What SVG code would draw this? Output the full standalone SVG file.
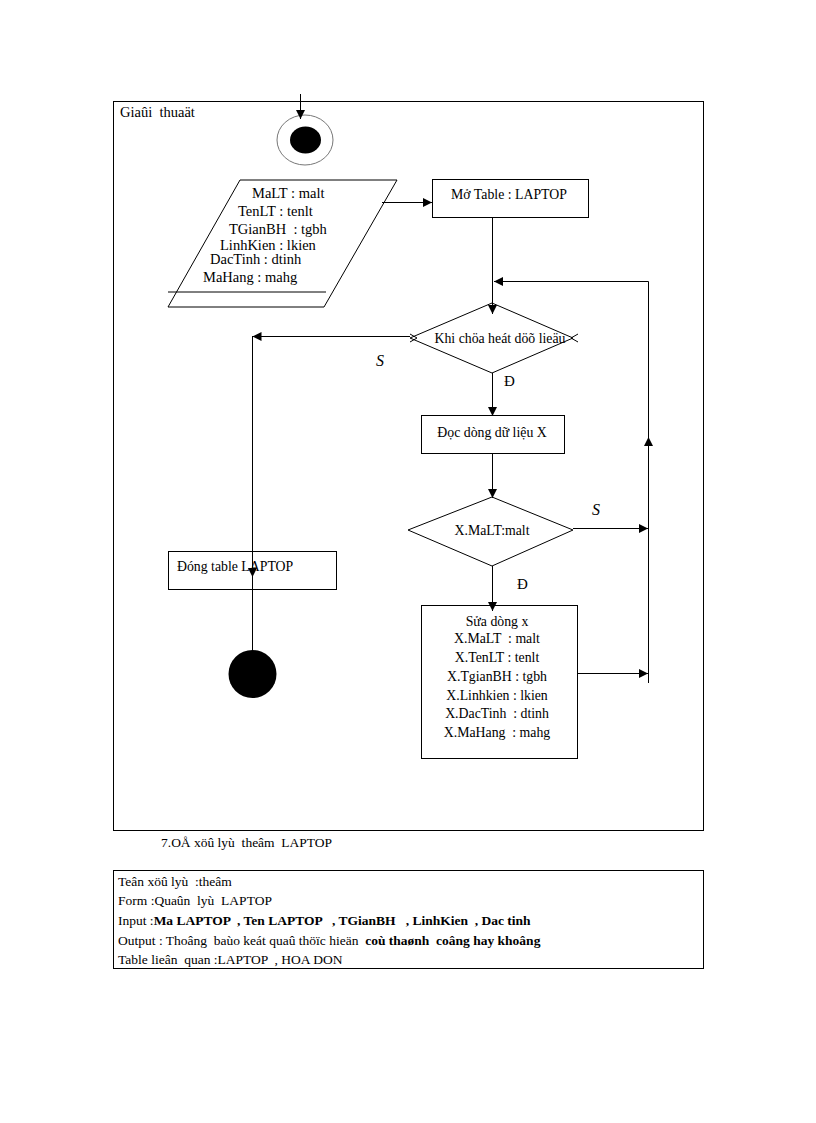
<svg xmlns="http://www.w3.org/2000/svg" width="816" height="1123" viewBox="0 0 816 1123">
<style>
.t{font-family:"Liberation Serif","Times New Roman",serif;font-size:13.8px;fill:#000;white-space:pre}
.p{font-family:"Liberation Serif","Times New Roman",serif;font-size:14.5px;fill:#000;white-space:pre}
.b{font-family:"Liberation Serif","Times New Roman",serif;font-size:13.5px;fill:#000;white-space:pre}
.ln{fill:none;stroke:#000;stroke-width:1}
.box{fill:#fff;stroke:#000;stroke-width:1}
</style>
<defs>
<marker id="ah" viewBox="0 0 10 10" refX="10" refY="5" markerWidth="9" markerHeight="9" markerUnits="userSpaceOnUse" orient="auto">
<path d="M0,0 L10,5 L0,10 z" fill="#000"/>
</marker>
</defs>
<rect width="816" height="1123" fill="#fff"/>
<g id="frame">
<rect x="113.5" y="101.5" width="590" height="729" class="ln"/>
<text x="120" y="117" class="p">Giaûi  thuaät</text>
</g>
<g id="start">
<ellipse cx="305" cy="140" rx="28" ry="25" fill="#fff" stroke="#777" stroke-width="1"/>
<ellipse cx="305.5" cy="140" rx="15.5" ry="13.5" fill="#000"/>
</g>
<g id="input">
<polygon points="240,180 397,180 324,307 168,307" class="ln"/>
<line x1="168" y1="292" x2="326" y2="292" class="ln"/>
<text x="252" y="198" class="p">MaLT : malt</text>
<text x="238" y="216" class="p">TenLT : tenlt</text>
<text x="229" y="234" class="p">TGianBH  : tgbh</text>
<text x="220" y="250" class="p">LinhKien : lkien</text>
<text x="210" y="264" class="p">DacTinh : dtinh</text>
<text x="203" y="282" class="p">MaHang : mahg</text>
</g>
<g id="open">
<rect x="432.5" y="179.5" width="156" height="38" class="box"/>
<text x="509" y="199" class="t" text-anchor="middle">Mở Table : LAPTOP</text>
</g>
<g id="loop">
<polygon points="492,303 573,338 492,373 410,338" class="box"/>
<text x="500" y="343" class="t" text-anchor="middle">Khi chöa heát döõ lieäu</text>
<path d="M578,334 L571,338 L578,342 M410,334 L417,338 L410,342" class="ln"/>
</g>
<g id="read">
<rect x="421.5" y="415.5" width="143" height="38" class="box"/>
<text x="492" y="437" class="t" text-anchor="middle">Đọc dòng dữ liệu X</text>
</g>
<g id="check">
<polygon points="492,497 573,530 492,566 408,530" class="box"/>
<text x="492" y="535" class="t" text-anchor="middle">X.MaLT:malt</text>
</g>
<g id="update">
<rect x="421.5" y="605.5" width="156" height="153" class="box"/>
<text x="497" y="626" class="t" text-anchor="middle">Sửa dòng x</text>
<text x="497" y="643" class="t" text-anchor="middle">X.MaLT  : malt</text>
<text x="497" y="662" class="t" text-anchor="middle">X.TenLT : tenlt</text>
<text x="497" y="681" class="t" text-anchor="middle">X.TgianBH : tgbh</text>
<text x="497" y="700" class="t" text-anchor="middle">X.Linhkien : lkien</text>
<text x="497" y="718" class="t" text-anchor="middle">X.DacTinh  : dtinh</text>
<text x="497" y="737" class="t" text-anchor="middle">X.MaHang  : mahg</text>
</g>
<g id="close">
<rect x="168.5" y="551.5" width="168" height="38" class="box"/>
<text x="177" y="571" class="t">Đóng table LAPTOP</text>
</g>
<g id="end">
<circle cx="252.5" cy="674" r="24" fill="#000"/>
</g>
<g id="connectors">
<line x1="300.5" y1="94" x2="300.5" y2="119" class="ln" marker-end="url(#ah)"/>
<line x1="382" y1="202.5" x2="432" y2="202.5" class="ln" marker-end="url(#ah)"/>
<line x1="492.5" y1="217" x2="492.5" y2="314" class="ln" marker-end="url(#ah)"/>
<polyline points="648.5,683 648.5,281.5 494,281.5" class="ln" marker-end="url(#ah)"/>
<line x1="648.5" y1="470" x2="648.5" y2="437" class="ln" marker-end="url(#ah)"/>
<polyline points="410,336.5 252.5,336.5" class="ln" marker-end="url(#ah)"/>
<line x1="252.5" y1="336" x2="252.5" y2="577" class="ln" marker-end="url(#ah)"/>
<line x1="252.5" y1="577" x2="252.5" y2="651" class="ln"/>
<line x1="492.5" y1="373" x2="492.5" y2="416" class="ln" marker-end="url(#ah)"/>
<line x1="492.5" y1="453" x2="492.5" y2="498" class="ln" marker-end="url(#ah)"/>
<line x1="573" y1="528.5" x2="648" y2="528.5" class="ln" marker-end="url(#ah)"/>
<line x1="492.5" y1="566" x2="492.5" y2="611" class="ln" marker-end="url(#ah)"/>
<line x1="577" y1="673.5" x2="648" y2="673.5" class="ln" marker-end="url(#ah)"/>
<text x="376" y="366" class="p" style="font-style:italic;font-size:16px">S</text>
<text x="592" y="515" class="p" style="font-style:italic;font-size:16px">S</text>
<text x="504" y="386" class="p" style="font-size:15px">Đ</text>
<text x="517" y="589" class="p" style="font-size:15px">Đ</text>
</g>
<g id="caption">
<text x="161" y="847" class="b">7.OÅ xöû lyù  theâm  LAPTOP</text>
</g>
<g id="info">
<rect x="113.5" y="870.5" width="590" height="98" class="ln"/>
<text x="118" y="886" class="b">Teân xöû lyù  :theâm</text>
<text x="118" y="905" class="b">Form :Quaûn  lyù  LAPTOP</text>
<text x="118" y="925" class="b">Input :<tspan font-weight="bold">Ma LAPTOP  , Ten LAPTOP   , TGianBH   , LinhKien  , Dac tinh</tspan></text>
<text x="118" y="945" class="b">Output : Thoâng  baùo keát quaû thöïc hieän  <tspan font-weight="bold">coù thaønh  coâng hay khoâng</tspan></text>
<text x="118" y="964" class="b">Table lieân  quan :LAPTOP  , HOA DON</text>
</g>
</svg>
